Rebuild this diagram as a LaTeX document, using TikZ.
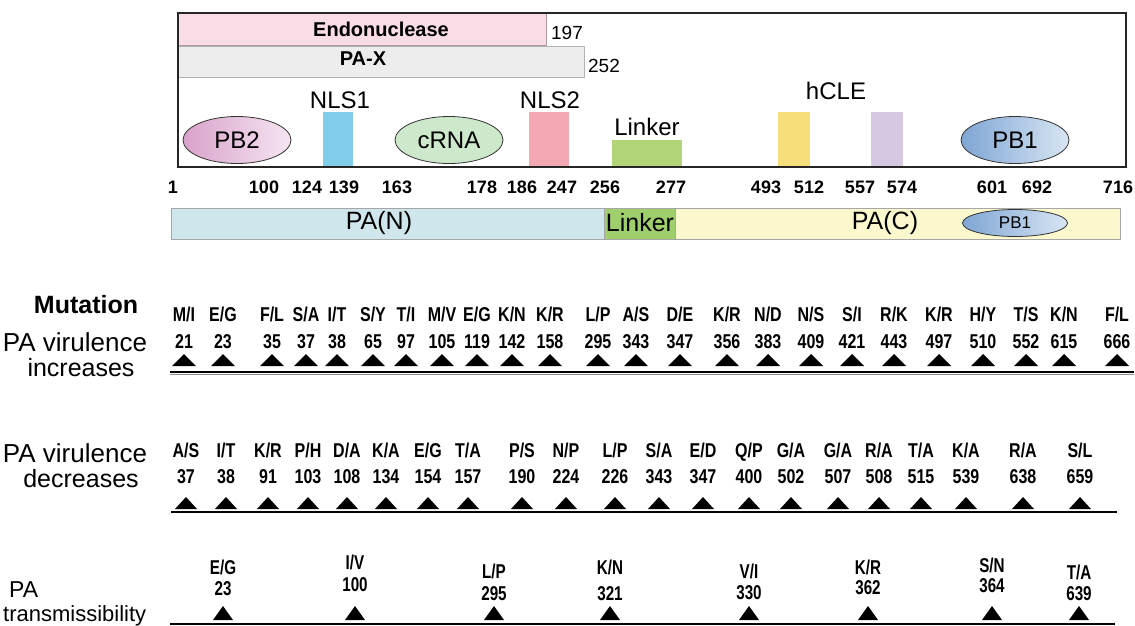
\documentclass[tikz,border=0pt]{standalone}
\usepackage{fontspec}
\setmainfont{Liberation Sans}
\newfontfamily\narrowsf[FakeStretch=0.8]{Liberation Sans}
\newfontfamily\narrowersf[FakeStretch=0.76]{Liberation Sans}
\usetikzlibrary{shapes.geometric}
\definecolor{endopink}{HTML}{F9DCE5}
\definecolor{paxgrey}{HTML}{EDEDED}
\definecolor{pbtwoL}{HTML}{D9A2CB}
\definecolor{pbtwoR}{HTML}{F5E6F1}
\definecolor{crnagreen}{HTML}{CDE8CB}
\definecolor{nlsblue}{HTML}{7FCDE8}
\definecolor{nlspink}{HTML}{F3A8B3}
\definecolor{linkgreen}{HTML}{B2D57A}
\definecolor{clyellow}{HTML}{F6DE7C}
\definecolor{clpurple}{HTML}{D5C8E2}
\definecolor{pboneL}{HTML}{7FA6D4}
\definecolor{pboneR}{HTML}{D8E5F3}
\definecolor{panblue}{HTML}{CFE7EC}
\definecolor{barlink}{HTML}{9FCF6C}
\definecolor{pacyellow}{HTML}{FBF8CD}
\newcommand{\fsz}[1]{\fontsize{#1}{#1}\selectfont}

\begin{document}
\begin{tikzpicture}[x=1pt,y=-1pt,
    txt/.style={inner sep=0pt,font=\fsz{24}},
    bartxt/.style={inner sep=0pt,font=\fsz{20}\bfseries},
    region/.style={draw=none,inner sep=0pt,anchor=north west},
    blob/.style={ellipse,draw=black!80,line width=0.8pt,minimum width=108,minimum height=47,inner sep=0pt,font=\fsz{24}},
    resnum/.style={inner sep=0pt,font=\fsz{18}\bfseries},
    mutaa/.style={inner sep=0pt,text height=0.72em,text depth=0pt,font=\narrowsf\fsz{20}\bfseries},
    mutnum/.style={inner sep=0pt,text height=0.72em,text depth=0pt,font=\narrowsf\fsz{20}\bfseries},
    tramut/.style={inner sep=0pt,text height=0.72em,text depth=0pt,font=\narrowersf\fsz{20}\bfseries},
    side/.style={inner sep=0pt,font=\fsz{25}}]
  \useasboundingbox (0,0) rectangle (1135,625);

  % domain map of PA
  \node[region,fill=endopink,draw=endopink!70!black,line width=0.4pt,minimum width=368,minimum height=32] (endo) at (178,13) {};
  \node[bartxt] (endotxt) at (381,29) {Endonuclease};
  \node[txt,font=\fsz{19}] (endoend) at (567,33) {197};
  \node[region,fill=paxgrey,draw=black!30,line width=0.4pt,minimum width=406,minimum height=31] (pax) at (178,46) {};
  \node[bartxt] (paxtxt) at (363,59) {PA-X};
  \node[txt,font=\fsz{19}] (paxend) at (604,66) {252};

  \node[blob,left color=pbtwoL,right color=pbtwoR] (pb2) at (237,140) {PB2};
  \node[region,fill=nlsblue,minimum width=30,minimum height=55] (nls1) at (323,112) {};
  \node[txt] (nls1txt) at (340,100) {NLS1};
  \node[blob,fill=crnagreen] (crna) at (449,140) {cRNA};
  \node[region,fill=nlspink,minimum width=40,minimum height=55] (nls2) at (529,112) {};
  \node[txt] (nls2txt) at (550,100) {NLS2};
  \node[region,fill=linkgreen,minimum width=70,minimum height=27] (link) at (612,140) {};
  \node[txt] (linktxt) at (647,127) {Linker};
  \node[region,fill=clyellow,minimum width=32,minimum height=55] (cle1) at (778,112) {};
  \node[region,fill=clpurple,minimum width=32,minimum height=55] (cle2) at (871,112) {};
  \node[txt] (cletxt) at (836,91) {hCLE};
  \node[blob,left color=pboneL,right color=pboneR] (pb1) at (1015,140) {PB1};
  \draw[line width=2pt,black!85] (178,13) rectangle (1126,167);

  % residue numbers
  \foreach \x/\n in {173/1,264/100,307/124,344/139,397/163,482/178,522/186,562/247,605/256,
      671/277,766/493,809/512,860/557,902/574,992/601,1037/692,1118/716}
    \node[resnum] (num\n) at (\x,187) {\n};

  % PA(N) / linker / PA(C)
  \node[region,fill=panblue,draw=black!35,line width=0.5pt,minimum width=433,minimum height=31] (pan) at (171,208) {};
  \node[txt,font=\fsz{25}] (pantxt) at (379,223) {PA(N)};
  \node[region,fill=barlink,draw=black!35,line width=0.5pt,minimum width=71,minimum height=31] (barlk) at (604,208) {};
  \node[txt,font=\fsz{25}] (barlktxt) at (640,223) {Linker};
  \node[region,fill=pacyellow,draw=black!35,line width=0.5pt,minimum width=445,minimum height=31] (pac) at (675,208) {};
  \node[txt,font=\fsz{25}] (pactxt) at (885,223) {PA(C)};
  \node[blob,left color=pboneL,right color=pboneR,minimum width=105,minimum height=27,font=\fsz{17}] (pb1s) at (1015,223) {PB1};

  % virulence increases
  \node[side,font=\fsz{25}\bfseries] (muttitle) at (86,305) {Mutation};
  \node[side,font=\fsz{26}] (upA) at (75,342) {PA virulence};
  \node[side] (upB) at (81,368) {increases};
  \foreach \x/\wt/\mt/\res in {184/M/I/21,223/E/G/23,272/F/L/35,306/S/A/37,337/I/T/38,373/S/Y/65,
      406/T/I/97,442/M/V/105,477/E/G/119,512/K/N/142,550/K/R/158,598/L/P/295,636/A/S/343,
      680/D/E/347,727/K/R/356,768/N/D/383,811/N/S/409,852/S/I/421,894/R/K/443,939/K/R/497,
      983/H/Y/510,1026/T/S/552,1064/K/N/615,1117/F/L/666}{
    \node[mutaa] (upaa\res) at (\x,318) {\wt/\mt};
    \node[mutnum] (upres\res) at (\x,345) {\res};
    \fill (\x-12,366) -- (\x+12,366) -- (\x,354) -- cycle;
  }
  \draw[black!45,line width=1pt] (170,374.5) -- (1134,374.5);
  \draw[line width=2.2pt] (170,372) -- (1134,372);

  % virulence decreases
  \node[side,font=\fsz{26}] (downA) at (75,453) {PA virulence};
  \node[side] (downB) at (81,479) {decreases};
  \foreach \x/\wt/\mt/\res in {186/A/S/37,226/I/T/38,268/K/R/91,308/P/H/103,347/D/A/108,386/K/A/134,
      428/E/G/154,468/T/A/157,522/P/S/190,566/N/P/224,615/L/P/226,659/S/A/343,703/E/D/347,
      749/Q/P/400,791/G/A/502,838/G/A/507,879/R/A/508,921/T/A/515,966/K/A/539,1023/R/A/638,1080/S/L/659}{
    \node[mutaa] (dnaa\res) at (\x,454) {\wt/\mt};
    \node[mutnum] (dnres\res) at (\x,480) {\res};
    \fill (\x-11,509) -- (\x+11,509) -- (\x,497) -- cycle;
  }
  \draw[line width=2pt] (171,512) -- (1117,512);

  % transmissibility
  \node[side,font=\fsz{23},anchor=west] (trA) at (9,590) {PA};
  \node[side,font=\fsz{22},anchor=west] (trB) at (3,616) {transmissibility};
  \foreach \x/\wt/\mt/\res/\ya/\yb in {223/E/G/23/571/592,355/I/V/100/566/588,494/L/P/295/575/597,
      610/K/N/321/571/597,749/V/I/330/575/596,868/K/R/362/571/591,992/S/N/364/569/589,1079/T/A/639/576/597}{
    \node[tramut] (traa\res) at (\x,\ya) {\wt/\mt};
    \node[tramut] (trres\res) at (\x,\yb) {\res};
    \fill (\x-10,620) -- (\x+10,620) -- (\x,606) -- cycle;
  }
  \draw[line width=2pt] (170,623.5) -- (1115,623.5);
\end{tikzpicture}
\end{document}
